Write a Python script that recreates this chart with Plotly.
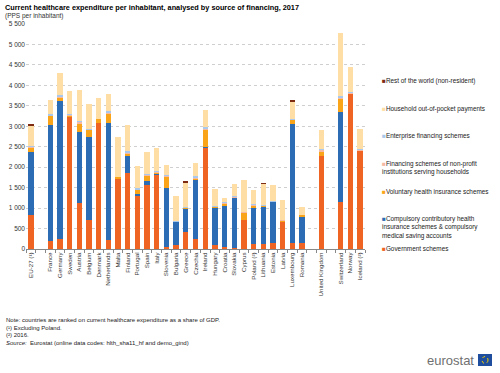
import plotly.graph_objects as go

countries = ["EU-27 (¹)", " ", "France", "Germany", "Sweden", "Austria", "Belgium", "Denmark",
             "Netherlands", "Malta", "Finland", "Portugal", "Spain", "Italy", "Slovenia",
             "Bulgaria", "Greece", "Czechia", "Ireland", "Hungary", "Croatia", "Slovakia",
             "Cyprus", "Poland (²)", "Lithuania", "Estonia", "Latvia", "Luxembourg", "Romania",
             "  ", "United Kingdom", "   ", "Switzerland", "Norway", "Iceland (²)"]

government = [830, None, 190, 255, 3240, 1135, 720, 3090, 215, 1730, 1855, 1315, 1565, 1830, 50,
              105, 425, 255, 2480, 100, 55, 30, 705, 130, 130, 140, 680, 155, 140,
              None, 2280, None, 1150, 3800, 2400]
compulsory = [1550, None, 2840, 3370, 0, 1730, 2020, 0, 2870, 0, 420, 30, 100, 5, 1445,
              565, 550, 1450, 20, 910, 985, 1240, 0, 870, 920, 1010, 0, 2900, 665,
              None, 0, None, 2190, 0, 0]
voluntary = [100, None, 235, 70, 25, 195, 180, 90, 220, 40, 50, 100, 140, 45, 280,
             5, 50, 10, 420, 20, 80, 0, 195, 75, 15, 5, 10, 110, 20,
             None, 100, None, 345, 5, 10]
npish = [20, None, 5, 40, 20, 60, 10, 0, 30, 0, 25, 10, 5, 15, 10,
         0, 0, 30, 10, 20, 5, 10, 5, 10, 0, 0, 10, 5, 0,
         None, 40, None, 20, 10, 20]
enterprise = [25, None, 25, 30, 10, 15, 15, 0, 40, 0, 55, 25, 15, 20, 15,
              5, 5, 30, 55, 10, 25, 15, 5, 15, 5, 15, 0, 15, 0,
              None, 25, None, 30, 30, 20]
household = [495, None, 340, 530, 570, 745, 610, 520, 425, 960, 630, 550, 550, 560, 250,
             615, 590, 325, 425, 400, 105, 305, 765, 335, 525, 390, 505, 400, 200,
             None, 470, None, 1545, 615, 490]
rest_world = [15, None, 0, 0, 0, 0, 0, 0, 0, 0, 0, 0, 0, 0, 0,
              0, 20, 0, 0, 0, 0, 0, 0, 0, 15, 0, 0, 55, 0,
              None, 0, None, 0, 0, 0]

series = [
    ("Government schemes", government, "#F06423"),
    ("Compulsory contributory health<br>insurance schemes & compulsory<br>medical saving accounts", compulsory, "#2B6CB5"),
    ("Voluntary health insurance schemes", voluntary, "#FAA519"),
    ("Financing schemes of non-profit<br>institutions serving households", npish, "#F6B9A3"),
    ("Enterprise financing schemes", enterprise, "#A9C8EB"),
    ("Household out-of-pocket payments", household, "#FEDEA4"),
    ("Rest of the world (non-resident)", rest_world, "#7E2B14"),
]

yticks = [0, 500, 1000, 1500, 2000, 2500, 3000, 3500, 4000, 4500, 5000, 5500]
ytick_text = ["0", "500", "1 000", "1 500", "2 000", "2 500", "3 000", "3 500",
              "4 000", "4 500", "5 000", "5 500"]

FONT = "Liberation Sans, Arial, sans-serif"
ML, MR, MT, MB = 26, 135, 24, 124
W, H = 500, 373

fig = go.Figure()
for name, vals, color in series:
    fig.add_trace(go.Bar(x=countries, y=vals, name=name, marker_color=color,
                         marker_line_width=0, showlegend=False))

fig.update_layout(
    barmode="stack",
    bargap=0.45,
    width=W, height=H,
    margin=dict(l=ML, r=MR, t=MT, b=MB, autoexpand=False),
    paper_bgcolor="white", plot_bgcolor="white",
    font=dict(family=FONT, size=7, color="#333333"),
)
fig.update_xaxes(
    type="category", categoryorder="array", categoryarray=countries,
    tickangle=-90, tickfont=dict(size=6.2, color="#333333"),
    showline=True, linecolor="#888888", linewidth=1,
    ticks="outside", ticklen=3, tickcolor="#888888", tickson="boundaries",
    showgrid=False, range=[-0.5, len(countries) - 0.5], automargin=False,
)
fig.update_yaxes(
    range=[0, 5500], tickvals=yticks, ticktext=ytick_text,
    tickfont=dict(size=6.5, color="#333333"),
    showgrid=True, gridcolor="#cfcfcf", griddash="dot", gridwidth=1,
    zeroline=False, showline=False, ticks="", automargin=False,
)

plot_w = W - ML - MR
plot_h = H - MT - MB

def px_to_paper(px, py):
    return (px - ML) / plot_w, (H - MB - py) / plot_h

ann = []
tx, ty = px_to_paper(3, 1)
ann.append(dict(x=tx, y=ty, xref="paper", yref="paper",
                text="<b>Current healthcare expenditure per inhabitant, analysed by source of financing, 2017</b>",
                showarrow=False, xanchor="left", yanchor="top", font=dict(size=7.3, color="#000000")))
tx, ty = px_to_paper(3, 10)
ann.append(dict(x=tx, y=ty, xref="paper", yref="paper", text="(PPS per inhabitant)",
                showarrow=False, xanchor="left", yanchor="top", font=dict(size=6.5, color="#333333")))

legend_rows = [
    (6, 81), (5, 108.7), (4, 136.3), (3, 167.5), (2, 192), (1, 227), (0, 248),
]
for idx, ypx in legend_rows:
    name, vals, color = series[idx]
    lx, ly = px_to_paper(380, ypx)
    ann.append(dict(x=lx, y=ly, xref="paper", yref="paper",
                    text=f"<span style='color:{color}'>■</span>{name}",
                    showarrow=False, xanchor="left", yanchor="middle", align="left",
                    font=dict(size=6.4, color="#222222")))

notes = [
    (320, "Note: countries are ranked on current healthcare expenditure as a share of GDP."),
    (327.5, "(¹) Excluding Poland."),
    (335, "(²) 2016."),
    (342.5, "<i>Source:</i>  Eurostat (online data codes: hlth_sha11_hf and demo_gind)"),
]
for ypx, txt in notes:
    nx, ny = px_to_paper(4, ypx)
    ann.append(dict(x=nx, y=ny, xref="paper", yref="paper", text=txt, showarrow=False,
                    xanchor="left", yanchor="middle", font=dict(size=6, color="#222222")))

ex, ey = px_to_paper(476, 360)
ann.append(dict(x=ex, y=ey, xref="paper", yref="paper", text="eurostat", showarrow=False,
                xanchor="right", yanchor="middle", font=dict(size=13, color="#707070")))
fig.update_layout(annotations=ann)

x0, y0 = px_to_paper(478, 354)
x1, y1 = px_to_paper(492, 366)
cx0, cy0 = px_to_paper(482, 356.5)
cx1, cy1 = px_to_paper(488, 363.5)
fig.update_layout(shapes=[
    dict(type="rect", xref="paper", yref="paper", x0=x0, y0=y1, x1=x1, y1=y0,
         fillcolor="#1F4E9E", line_width=0),
    dict(type="circle", xref="paper", yref="paper", x0=cx0, y0=cy1, x1=cx1, y1=cy0,
         line=dict(color="#F5D000", width=1, dash="dot")),
])

fig.write_html("out.html", config={"displayModeBar": False},
               post_script="document.body.style.margin='0';document.body.style.overflow='hidden';")
